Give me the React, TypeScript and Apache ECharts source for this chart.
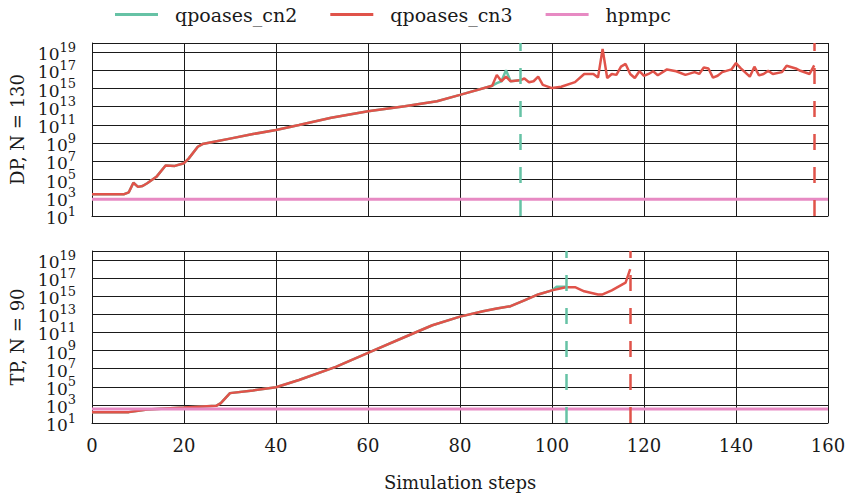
import React, { useEffect, useRef } from 'react';
import * as echarts from 'echarts';

// ---- data (values are log10 exponents) ----
const seriesNames = ['qpoases_cn2', 'qpoases_cn3', 'hpmpc'];
const seriesColors = ['#66c2a5', '#e0534a', '#e78ac3'];
const panelNames = ['DP, N = 130', 'TP, N = 90'];
const xAxisName = 'Simulation steps';
const xMin = 0;
const xMax = 160;
const xStep = 20;
const expMin = 1;
const expMax = 20;
const expStep = 2;
const expLabels = [1, 3, 5, 7, 9, 11, 13, 15, 17, 19];

// DP panel: part shared by both qpoases variants
const dpShared: [number, number][] = [
  [0, 3.4], [7, 3.4], [8, 3.6], [9, 4.65], [10, 4.2], [11, 4.3], [12, 4.6], [14, 5.3],
  [16, 6.55], [18, 6.5], [20, 6.8], [21, 7.3], [23, 8.6], [24, 8.9], [26, 9.1], [30, 9.5],
  [35, 10.0], [40, 10.45], [45, 11.0], [52, 11.8], [60, 12.5], [68, 13.05], [75, 13.6],
  [80, 14.3], [87, 15.3],
];
const dpCn2Tail: [number, number][] = [
  [88, 15.6], [89, 15.8], [90, 17.0], [91, 15.8], [92, 15.85], [93, 15.9],
];
const dpCn3Tail: [number, number][] = [
  [88, 16.5], [89, 15.8], [90, 16.3], [91, 15.8], [92, 15.85], [93, 15.9], [94, 16.1],
  [95, 15.7], [96, 15.8], [97, 16.3], [98, 15.4], [100, 15.05], [102, 15.2], [105, 15.7],
  [107, 16.6], [109, 16.6], [110, 16.2], [111, 19.35], [112, 16.15], [113, 16.6],
  [114, 16.5], [115, 17.4], [116, 17.7], [117, 16.6], [118, 16.15], [119, 16.9],
  [120, 16.4], [121, 16.6], [122, 16.9], [123, 16.45], [125, 17.1], [127, 16.9],
  [129, 16.5], [131, 16.8], [132, 16.6], [133, 17.3], [134, 17.2], [135, 16.2],
  [136, 16.4], [137, 16.8], [139, 17.1], [140, 17.8], [141, 17.25], [143, 16.3],
  [144, 17.4], [145, 16.45], [146, 16.6], [147, 16.95], [148, 16.6], [150, 16.8],
  [151, 17.5], [153, 17.2], [154, 16.95], [156, 16.6], [157, 17.55],
];
const dpHpmpc: [number, number][] = [[0, 2.85], [160, 2.85]];
const dpEnds = [93, 157]; // cn2, cn3

// TP panel
const tpShared: [number, number][] = [
  [0, 2.2], [8, 2.2], [12, 2.5], [20, 2.7], [27, 2.9], [28, 3.2], [30, 4.3], [35, 4.6],
  [40, 4.95], [45, 5.75], [53, 7.2], [60, 8.75], [68, 10.5], [74, 11.8], [80, 12.75],
  [85, 13.35], [88, 13.65], [91, 13.9], [94, 14.55], [97, 15.2], [100, 15.65],
];
const tpCn2Tail: [number, number][] = [[101, 16.05], [103, 16.05]];
const tpCn3Tail: [number, number][] = [
  [103, 16.0], [105, 16.0], [107, 15.55], [110, 15.2], [111, 15.2], [113, 15.65],
  [116, 16.5], [117, 18.0],
];
const tpHpmpc: [number, number][] = [[0, 2.56], [160, 2.56]];
const tpEnds = [103, 117];

const FONT = 'DejaVu Serif';
const INK = '#1a1a1a';

export default function App() {
  const ref = useRef<HTMLDivElement>(null);

  useEffect(() => {
    document.body.style.margin = '0';
    if (!ref.current) return;
    const chart = echarts.init(ref.current, undefined, { renderer: 'svg' });

    const panels = [
      { cn2: [...dpShared, ...dpCn2Tail], cn3: [...dpShared, ...dpCn3Tail], hp: dpHpmpc, ends: dpEnds },
      { cn2: [...tpShared, ...tpCn2Tail], cn3: [...tpShared, ...tpCn3Tail], hp: tpHpmpc, ends: tpEnds },
    ];

    const grids = [
      { left: 92, right: 21, top: 43, height: 173 },
      { left: 92, right: 21, top: 251, height: 172 },
    ];

    // the first and last label values are repeated so that ECharts' min/max
    // overlap check drops a duplicate instead of a real neighbouring label
    const labelValues = [expLabels[0], ...expLabels, expLabels[expLabels.length - 1]];

    const xAxes = grids.map((_, i) => ({
      type: 'value',
      gridIndex: i,
      min: xMin,
      max: xMax,
      interval: xStep,
      axisLine: { show: true, lineStyle: { color: INK, width: 1 } },
      axisTick: { show: false },
      splitLine: { show: true, lineStyle: { color: INK, width: 1 } },
      axisLabel: {
        show: i === 1,
        fontFamily: FONT,
        fontSize: 18,
        color: INK,
        margin: 13,
      },
      name: i === 1 ? xAxisName : '',
      nameLocation: 'middle',
      nameGap: 50,
      nameTextStyle: { fontFamily: FONT, fontSize: 18, color: INK },
    }));

    const yAxes = grids.map((_, i) => ({
      type: 'value',
      gridIndex: i,
      min: expMin,
      max: expMax,
      interval: expStep,
      axisLine: { show: true, lineStyle: { color: INK, width: 1 } },
      axisTick: { show: false },
      splitLine: { show: true, lineStyle: { color: INK, width: 1 } },
      axisLabel: {
        customValues: labelValues,
        showMinLabel: true,
        showMaxLabel: true,
        hideOverlap: false,
        margin: 16,
        formatter: (v: number) => `{b|10}{s|${Math.round(v)}}`,
        rich: {
          b: {
            fontFamily: FONT, fontSize: 17, height: 12, lineHeight: 16, color: INK,
            padding: [4, 0, 0, 0], verticalAlign: 'top',
          },
          s: {
            fontFamily: FONT, fontSize: 13, height: 6, lineHeight: 6, color: INK,
            verticalAlign: 'top',
          },
        },
      },
      name: panelNames[i],
      nameLocation: 'middle',
      nameGap: 64,
      nameTextStyle: { fontFamily: FONT, fontSize: 18, color: INK },
    }));

    const series: any[] = [];
    panels.forEach((p, i) => {
      const datas = [p.cn2, p.cn3, p.hp];
      datas.forEach((d, k) => {
        const s: any = {
          name: seriesNames[k],
          type: 'line',
          xAxisIndex: i,
          yAxisIndex: i,
          data: d,
          showSymbol: false,
          symbol: 'none',
          lineStyle: { color: seriesColors[k], width: k === 2 ? 3 : 2.5 },
          itemStyle: { color: seriesColors[k] },
          z: 2 + k,
          emphasis: { disabled: true },
        };
        if (k < 2) {
          s.markLine = {
            silent: true,
            symbol: ['none', 'none'],
            label: { show: false },
            lineStyle: { color: seriesColors[k], width: 2.5, type: [16, 17] },
            emphasis: { disabled: true },
            data: [{ xAxis: p.ends[k] }],
          };
        }
        series.push(s);
      });
    });

    chart.setOption({
      animation: false,
      backgroundColor: '#ffffff',
      legend: {
        left: 110,
        top: 0,
        itemWidth: 43,
        itemHeight: 3,
        itemGap: 33,
        data: seriesNames.map((n) => ({ name: n, icon: 'rect' })),
        textStyle: { fontFamily: FONT, fontSize: 19, color: INK, padding: [0, 0, 0, 12] },
      },
      grid: grids,
      xAxis: xAxes,
      yAxis: yAxes,
      series,
    });

    return () => chart.dispose();
  }, []);

  return <div ref={ref} style={{ width: 849, height: 499 }} />;
}
